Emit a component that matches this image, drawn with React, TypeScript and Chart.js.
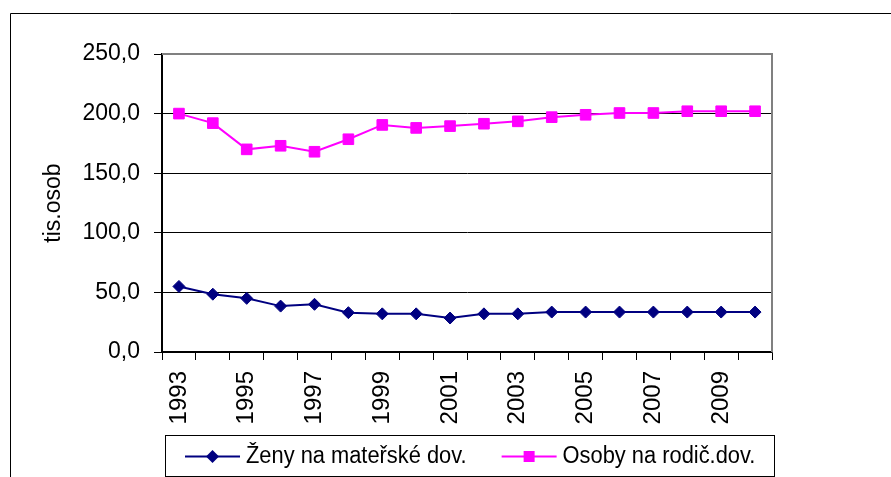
import React, { useEffect, useRef } from 'react';
import { Chart, registerables } from 'chart.js';

Chart.register(...registerables);

const years = ['1993', '1994', '1995', '1996', '1997', '1998', '1999', '2000', '2001', '2002', '2003', '2004', '2005', '2006', '2007', '2008', '2009', '2010'];
const zenyMaterske = [55, 48.5, 45, 38.5, 40, 33, 32, 32, 28.5, 32, 32, 33.5, 33.5, 33.5, 33.5, 33.5, 33.5, 33.5];
const osobyRodic = [200, 192, 170, 173, 168, 178.5, 190.5, 188, 189.5, 191.5, 193.5, 197, 199, 200.5, 200.5, 202, 202, 202];
const seriesNames = ['Ženy na mateřské dov.', 'Osoby na rodič.dov.'];
const seriesColors = ['#000080', '#FF00FF'];
const yTitle = 'tis.osob';
const yMin = 0;
const yMax = 250;
const yStep = 50;

const FONT = '"Liberation Sans", Arial, sans-serif';

const framePlugin = {
  id: 'excelFrame',
  beforeDatasetsDraw(chart: any) {
    const { ctx, chartArea: ca } = chart;
    ctx.save();
    ctx.strokeStyle = '#808080';
    ctx.lineWidth = 2;
    ctx.beginPath();
    ctx.moveTo(ca.left, ca.top);
    ctx.lineTo(ca.right, ca.top);
    ctx.lineTo(ca.right, ca.bottom);
    ctx.stroke();
    ctx.restore();
  },
  afterDraw(chart: any) {
    const { ctx, chartArea: ca } = chart;
    ctx.save();
    // outer chart border
    ctx.strokeStyle = '#000';
    ctx.lineWidth = 1;
    ctx.beginPath();
    ctx.moveTo(10.5, chart.height);
    ctx.lineTo(10.5, 13.5);
    ctx.lineTo(chart.width, 13.5);
    ctx.stroke();

    // legend box
    const bx = ca.left + 3;
    const by = 435;
    const bw = 609;
    const bh = 41;
    ctx.strokeStyle = '#000';
    ctx.lineWidth = 1;
    ctx.strokeRect(bx + 0.5, by + 0.5, bw, bh);

    const sx = 0.95;
    ctx.font = '23px ' + FONT;
    ctx.textBaseline = 'middle';
    ctx.textAlign = 'left';
    const cy = by + bh / 2 + 1;
    let x = bx + 20;
    chart.data.datasets.forEach((ds: any) => {
      ctx.strokeStyle = ds.borderColor;
      ctx.lineWidth = 2;
      ctx.beginPath();
      ctx.moveTo(x, cy);
      ctx.lineTo(x + 55, cy);
      ctx.stroke();
      const mx = x + 27.5;
      ctx.fillStyle = ds.backgroundColor;
      ctx.beginPath();
      if (ds.pointStyle === 'rect') {
        ctx.rect(mx - 5.5, cy - 5.5, 11, 11);
      } else {
        ctx.moveTo(mx, cy - 6.5);
        ctx.lineTo(mx + 6.5, cy);
        ctx.lineTo(mx, cy + 6.5);
        ctx.lineTo(mx - 6.5, cy);
        ctx.closePath();
      }
      ctx.fill();
      ctx.fillStyle = '#000';
      const tx = x + 61;
      ctx.save();
      ctx.translate(tx, cy);
      ctx.scale(sx, 1);
      ctx.fillText(ds.label, 0, 0);
      ctx.restore();
      x = tx + ctx.measureText(ds.label).width * sx + 35;
    });
    ctx.restore();
  },
};

export default function App() {
  const canvasRef = useRef<HTMLCanvasElement | null>(null);

  useEffect(() => {
    document.body.style.margin = '0';
    const canvas = canvasRef.current;
    if (!canvas) return;
    const chart = new Chart(canvas, {
      type: 'line',
      data: {
        labels: years,
        datasets: [
          {
            label: seriesNames[0],
            data: zenyMaterske,
            borderColor: seriesColors[0],
            backgroundColor: seriesColors[0],
            borderWidth: 2,
            pointStyle: 'rectRot',
            pointRadius: 6,
            pointBorderWidth: 1,
            pointBackgroundColor: seriesColors[0],
            pointBorderColor: seriesColors[0],
            tension: 0,
          },
          {
            label: seriesNames[1],
            data: osobyRodic,
            borderColor: seriesColors[1],
            backgroundColor: seriesColors[1],
            borderWidth: 2,
            pointStyle: 'rect',
            pointRadius: 7.5,
            pointBorderWidth: 1,
            pointBackgroundColor: seriesColors[1],
            pointBorderColor: seriesColors[1],
            tension: 0,
          },
        ],
      },
      options: {
        animation: false,
        responsive: false,
        devicePixelRatio: 1,
        layout: { padding: { left: 0, right: 119, top: 54, bottom: 45 } },
        plugins: {
          legend: { display: false },
          tooltip: { enabled: false },
        },
        scales: {
          x: {
            type: 'category',
            offset: true,
            afterFit: (scale: any) => {
              scale.height = 80;
            },
            grid: {
              display: true,
              offset: true,
              drawOnChartArea: false,
              drawTicks: true,
              tickLength: 8,
              color: '#000',
              lineWidth: 1,
            },
            border: { display: true, color: '#000', width: 1.5 },
            ticks: {
              autoSkip: false,
              maxRotation: 90,
              minRotation: 90,
              padding: 11,
              color: '#000',
              font: { family: FONT, size: 24 },
              callback: (_v: any, idx: number) => (idx % 2 === 0 ? years[idx] : ''),
            },
          },
          y: {
            min: yMin,
            max: yMax,
            afterFit: (scale: any) => {
              scale.width = 162;
            },
            grid: {
              color: (c: any) => (c.tick && c.tick.value === yMax ? 'rgba(0,0,0,0)' : '#000'),
              tickColor: '#000',
              lineWidth: 1,
              tickLength: 8,
              drawTicks: true,
            },
            border: { display: true, color: '#000', width: 2 },
            ticks: {
              stepSize: yStep,
              padding: 14,
              color: '#000',
              font: { family: FONT, size: 23 },
              callback: (v: any) => Number(v).toFixed(1).replace('.', ','),
            },
            title: {
              display: true,
              text: yTitle,
              color: '#000',
              font: { family: FONT, size: 23 },
              padding: { top: 40, bottom: 0 },
            },
          },
        },
      },
      plugins: [framePlugin],
    });
    return () => chart.destroy();
  }, []);

  return (
    <div style={{ position: 'absolute', left: 0, top: 0, width: 891, height: 477, background: '#fff' }}>
      <canvas ref={canvasRef} width={891} height={477} />
    </div>
  );
}
